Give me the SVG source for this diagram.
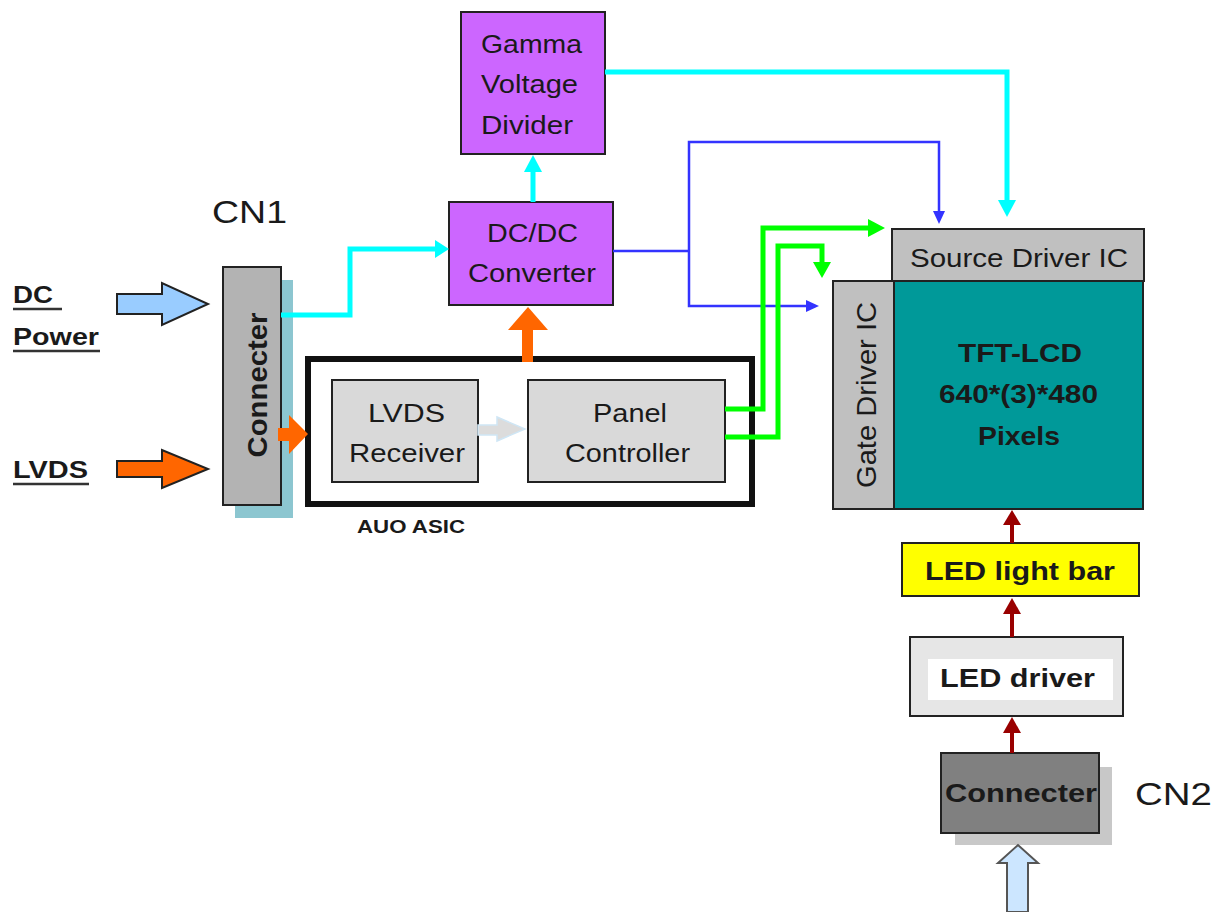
<svg xmlns="http://www.w3.org/2000/svg" width="1224" height="912" viewBox="0 0 1224 912">
<style>
text{font-family:"Liberation Sans",Arial,sans-serif;fill:#1a1a1a}
.n{font-size:26px}
.b{font-size:26px;font-weight:bold}
.box{stroke:#222;stroke-width:2}
.cy{stroke:#00ffff;stroke-width:5;fill:none}
.bl{stroke:#3333ff;stroke-width:2.5;fill:none}
.gr{stroke:#00ff00;stroke-width:5;fill:none}
.rd{stroke:#990000;stroke-width:4;fill:none}
</style>
<rect width="1224" height="912" fill="#ffffff"/>

<g id="labels">
<text x="212" y="223" style="font-size:31px" textLength="75" lengthAdjust="spacingAndGlyphs">CN1</text>
<text x="1135" y="805" style="font-size:31px" textLength="77" lengthAdjust="spacingAndGlyphs">CN2</text>
<text x="13" y="303" class="b" style="font-size:24px" textLength="40" lengthAdjust="spacingAndGlyphs">DC</text>
<text x="13" y="345" class="b" style="font-size:24px" textLength="86" lengthAdjust="spacingAndGlyphs">Power</text>
<text x="13" y="478" class="b" style="font-size:24px" textLength="75" lengthAdjust="spacingAndGlyphs">LVDS</text>
<g stroke="#333" stroke-width="2.5">
<line x1="13" y1="309" x2="62" y2="309"/>
<line x1="13" y1="351" x2="100" y2="351"/>
<line x1="13" y1="484" x2="89" y2="484"/>
</g>
<text x="357" y="533" class="b" style="font-size:18px" textLength="108" lengthAdjust="spacingAndGlyphs">AUO ASIC</text>
</g>

<g id="dc-power-arrow">
<polygon points="117,294 162,294 162,283 208,304 162,325 162,314 117,314" fill="#99ccff" stroke="#222" stroke-width="2"/>
</g>
<g id="lvds-arrow">
<polygon points="117,461 162,461 162,450 208,469 162,488 162,477 117,477" fill="#ff6600" stroke="#222" stroke-width="2"/>
</g>

<g id="cn1">
<rect x="235" y="280" width="58" height="238" fill="#8cc6d0"/>
<rect x="223" y="267" width="58" height="238" fill="#b3b3b3" class="box"/>
<text class="b" transform="translate(267,385) rotate(-90)" text-anchor="middle" style="font-size:28px" textLength="145" lengthAdjust="spacingAndGlyphs">Connecter</text>
</g>

<g id="auo-asic">
<rect x="308" y="359" width="444" height="145" fill="#ffffff" stroke="#111" stroke-width="6"/>
</g>

<g id="lvds-receiver">
<rect x="332" y="380" width="146" height="102" fill="#d9d9d9" class="box"/>
<text x="368" y="422" class="n" textLength="77" lengthAdjust="spacingAndGlyphs">LVDS</text>
<text x="349" y="462" class="n" textLength="116" lengthAdjust="spacingAndGlyphs">Receiver</text>
</g>

<g id="panel-controller">
<rect x="528" y="380" width="197" height="102" fill="#d9d9d9" class="box"/>
<text x="593" y="422" class="n" textLength="74" lengthAdjust="spacingAndGlyphs">Panel</text>
<text x="565" y="462" class="n" textLength="125" lengthAdjust="spacingAndGlyphs">Controller</text>
</g>

<g id="dcdc-converter">
<rect x="449" y="202" width="164" height="103" fill="#cc66ff" class="box"/>
<text x="487" y="242" class="n" textLength="91" lengthAdjust="spacingAndGlyphs">DC/DC</text>
<text x="468" y="282" class="n" textLength="128" lengthAdjust="spacingAndGlyphs">Converter</text>
</g>

<g id="gamma-voltage-divider">
<rect x="461" y="12" width="144" height="142" fill="#cc66ff" class="box"/>
<text x="481" y="53" class="n" textLength="101" lengthAdjust="spacingAndGlyphs">Gamma</text>
<text x="481" y="93" class="n" textLength="97" lengthAdjust="spacingAndGlyphs">Voltage</text>
<text x="481" y="134" class="n" textLength="92" lengthAdjust="spacingAndGlyphs">Divider</text>
</g>

<g id="source-driver-ic">
<rect x="892" y="229" width="252" height="52" fill="#c0c0c0" class="box"/>
<text x="910" y="267" class="n" textLength="218" lengthAdjust="spacingAndGlyphs">Source Driver IC</text>
</g>

<g id="gate-driver-ic">
<rect x="833" y="281" width="61" height="228" fill="#c0c0c0" class="box"/>
<text class="n" transform="translate(876,395) rotate(-90)" text-anchor="middle" style="font-size:28px" textLength="186" lengthAdjust="spacingAndGlyphs">Gate Driver IC</text>
</g>

<g id="tft-lcd">
<rect x="894" y="281" width="249" height="228" fill="#009999" class="box"/>
<text x="958" y="362" class="b" textLength="124" lengthAdjust="spacingAndGlyphs">TFT-LCD</text>
<text x="939" y="403" class="b" textLength="159" lengthAdjust="spacingAndGlyphs">640*(3)*480</text>
<text x="978" y="445" class="b" textLength="82" lengthAdjust="spacingAndGlyphs">Pixels</text>
</g>

<g id="led-light-bar">
<rect x="902" y="543" width="237" height="53" fill="#ffff00" class="box"/>
<text x="925" y="580" class="b" textLength="190" lengthAdjust="spacingAndGlyphs">LED light bar</text>
</g>

<g id="led-driver">
<rect x="910" y="637" width="213" height="79" fill="#e6e6e6" class="box"/>
<rect x="928" y="659" width="185" height="41" fill="#ffffff"/>
<text x="940" y="687" class="b" textLength="155" lengthAdjust="spacingAndGlyphs">LED driver</text>
</g>

<g id="cn2">
<rect x="955" y="767" width="157" height="78" fill="#c8c8c8"/>
<rect x="941" y="753" width="158" height="80" fill="#808080" class="box"/>
<text x="945" y="802" class="b" textLength="152" lengthAdjust="spacingAndGlyphs">Connecter</text>
</g>

<g id="cn2-input-arrow">
<polygon points="1007,912 1007,863 998,863 1018,845 1038,863 1028,863 1028,912" fill="#cce6ff" stroke="#555" stroke-width="2"/>
</g>

<g id="connectors">
<!-- cyan: connecter to DC/DC -->
<polyline class="cy" points="281,315 350,315 350,249 437,249"/>
<polygon points="449,249 435,240 435,258" fill="#00ffff"/>
<!-- cyan: DC/DC to Gamma -->
<line class="cy" x1="533" y1="202" x2="533" y2="170"/>
<polygon points="533,155 524,172 542,172" fill="#00ffff"/>
<!-- cyan: Gamma to Source Driver -->
<polyline class="cy" points="605,72 1007,72 1007,202"/>
<polygon points="1007,217 998,200 1016,200" fill="#00ffff"/>
<!-- blue: DC/DC to source and gate driver -->
<polyline class="bl" points="613,251 689,251"/>
<polyline class="bl" points="939,214 939,142 689,142 689,306 808,306"/>
<polygon points="939,224 933,211 945,211" fill="#3333ff"/>
<polygon points="819,306 806,300 806,312" fill="#3333ff"/>
<!-- green: panel controller to source driver -->
<polyline class="gr" points="725,409 763,409 763,228 870,228"/>
<polygon points="885,228 868,219 868,237" fill="#00ff00"/>
<!-- green: panel controller to gate driver -->
<polyline class="gr" points="725,437 778,437 778,246 822,246 822,264"/>
<polygon points="822,278 813,262 831,262" fill="#00ff00"/>
<!-- orange: ASIC to DC/DC -->
<rect x="522" y="328" width="11" height="34" fill="#ff6600"/>
<polygon points="528,307 508,330 548,330" fill="#ff6600"/>
<!-- orange: connecter to ASIC -->
<rect x="278" y="428" width="13" height="13" fill="#ff6600"/>
<polygon points="308,434 289,415 289,454" fill="#ff6600"/>
<!-- gray: LVDS receiver to panel controller -->
<polygon points="478,425 497,425 497,417 525,429 497,441 497,435 478,435" fill="#dcdcdc" stroke="#cfe6f5" stroke-width="1.5"/>
<!-- dark red arrows -->
<line class="rd" x1="1012" y1="543" x2="1012" y2="522"/>
<polygon points="1012,510 1003,525 1021,525" fill="#990000"/>
<line class="rd" x1="1012" y1="637" x2="1012" y2="612"/>
<polygon points="1012,598 1003,614 1021,614" fill="#990000"/>
<line class="rd" x1="1012" y1="753" x2="1012" y2="730"/>
<polygon points="1012,717 1003,733 1021,733" fill="#990000"/>
</g>
</svg>
